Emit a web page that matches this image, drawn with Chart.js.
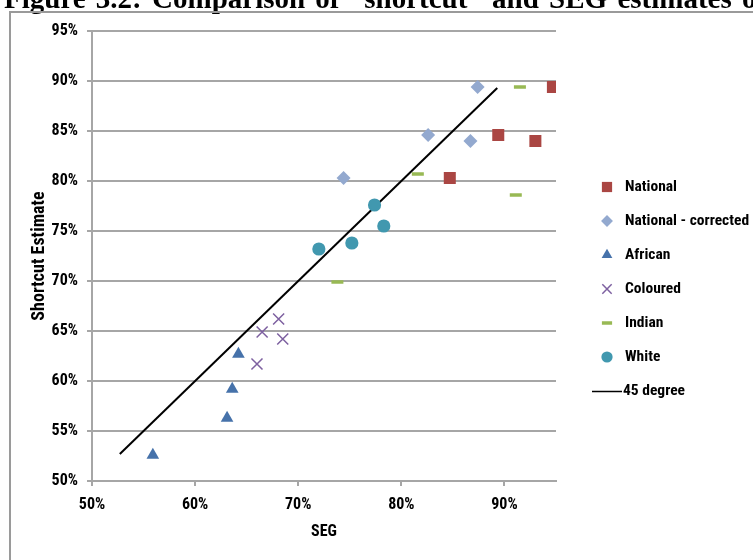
<!DOCTYPE html>
<html>
<head>
<meta charset="utf-8">
<script src="https://cdn.jsdelivr.net/npm/chart.js@4/dist/chart.umd.min.js"></script>
<style>
  html, body { margin: 0; padding: 0; background: #fff; }
  canvas { display: block; }
</style>
</head>
<body>
<canvas id="c" width="753" height="560"></canvas>
<script>
// Figure caption (runs off the top of the frame)
const figureTitle = 'Figure 3.2: Comparison of \u201cshortcut\u201d and SEG estimates of';

// Series labels, in legend order
const seriesNames = ['National', 'National - corrected', 'African', 'Coloured', 'Indian', 'White', '45 degree'];

// SEG (x) and shortcut estimate (y), in percent
const nationalSEG        = [94.7, 89.4, 93.0, 84.7];
const nationalShortcut   = [89.4, 84.6, 84.0, 80.3];
const correctedSEG       = [87.4, 82.6, 86.7, 74.4];
const correctedShortcut  = [89.4, 84.6, 84.0, 80.3];
const africanSEG         = [55.9, 63.1, 63.6, 64.2];
const africanShortcut    = [52.6, 56.3, 59.2, 62.7];
const colouredSEG        = [66.0, 66.5, 68.1, 68.5];
const colouredShortcut   = [61.7, 64.9, 66.2, 64.2];
const indianSEG          = [91.5, 81.6, 91.1, 73.8];
const indianShortcut     = [89.4, 80.7, 78.6, 69.9];
const whiteSEG           = [72.0, 75.2, 77.4, 78.3];
const whiteShortcut      = [73.2, 73.8, 77.6, 75.5];
const diagonalSEG        = [52.7, 89.3];
const diagonalShortcut   = [52.7, 89.3];

// Axis ticks
const xTicks = [50, 60, 70, 80, 90];
const yTicks = [50, 55, 60, 65, 70, 75, 80, 85, 90, 95];

const zip = (xs, ys) => xs.map((x, i) => ({ x: x, y: ys[i] }));

const uiFont = '"Liberation Sans Narrow", "Roboto Condensed", "Liberation Sans", sans-serif';
Chart.defaults.font.family = uiFont;
Chart.defaults.color = '#000';

const gridGrey = '#a6a6a6';

function marker(label, data, style, color, radius, extra) {
  return Object.assign({
    label: label,
    data: data,
    pointStyle: style,
    pointRadius: radius,
    pointHoverRadius: radius,
    backgroundColor: color,
    borderColor: color,
    pointBorderWidth: 0,
    showLine: false
  }, extra || {});
}

const datasets = [
  marker(seriesNames[0], zip(nationalSEG, nationalShortcut), 'rect', '#aa4643', 8.5),
  marker(seriesNames[1], zip(correctedSEG, correctedShortcut), 'rectRot', '#93a9cf', 7),
  marker(seriesNames[2], zip(africanSEG, africanShortcut), 'triangle', '#4672aa', 7.3),
  marker(seriesNames[3], zip(colouredSEG, colouredShortcut), 'crossRot', '#7d60a0', 7.8, { pointBorderWidth: 1.5 }),
  marker(seriesNames[4], zip(indianSEG, indianShortcut), 'line', '#98b954', 6, { pointBorderWidth: 3.5 }),
  marker(seriesNames[5], zip(whiteSEG, whiteShortcut), 'circle', '#4198af', 6.6),
  {
    label: seriesNames[6],
    data: zip(diagonalSEG, diagonalShortcut),
    showLine: true,
    borderColor: '#000',
    borderWidth: 2,
    pointRadius: 0,
    pointHoverRadius: 0,
    fill: false
  }
];

// White page, outer frame and the caption line above it
const framePlugin = {
  id: 'frame',
  beforeDraw(chart) {
    const ctx = chart.ctx;
    ctx.save();
    ctx.fillStyle = '#fff';
    ctx.fillRect(0, 0, chart.width, chart.height);
    ctx.font = 'bold 29px "Liberation Serif", "DejaVu Serif", serif';
    if ('wordSpacing' in ctx) ctx.wordSpacing = '3px';
    ctx.fillStyle = '#000';
    ctx.textBaseline = 'alphabetic';
    ctx.textAlign = 'left';
    ctx.fillText(figureTitle, 4, 8);
    ctx.strokeStyle = '#9a9a9a';
    ctx.lineWidth = 2;
    ctx.strokeRect(10, 12, chart.width + 20, chart.height + 20);
    ctx.restore();
  }
};

// Legend column to the right of the plot
const sideLegend = {
  id: 'sideLegend',
  afterDraw(chart) {
    const ctx = chart.ctx;
    const markX = 607, textX = 625, firstY = 187, step = 34;
    ctx.save();
    ctx.font = 'bold 15.5px ' + uiFont;
    ctx.textBaseline = 'middle';
    ctx.textAlign = 'left';
    chart.data.datasets.forEach((ds, i) => {
      const y = firstY + i * step;
      if (ds.showLine) {
        ctx.strokeStyle = ds.borderColor;
        ctx.lineWidth = 1.5;
        ctx.beginPath();
        ctx.moveTo(592, y + 0.5);
        ctx.lineTo(622, y + 0.5);
        ctx.stroke();
      } else {
        ctx.fillStyle = ds.backgroundColor;
        ctx.strokeStyle = ds.borderColor;
        ctx.lineWidth = ds.pointBorderWidth;
        Chart.helpers.drawPoint(ctx, {
          pointStyle: ds.pointStyle,
          radius: ds.pointRadius * 0.85,
          rotation: 0,
          borderWidth: ds.pointBorderWidth
        }, markX, y);
      }
      ctx.fillStyle = '#000';
      ctx.fillText(ds.label, ds.showLine ? 623 : textX, y);
    });
    ctx.restore();
  }
};

new Chart(document.getElementById('c'), {
  type: 'scatter',
  data: { datasets: datasets },
  plugins: [framePlugin, sideLegend],
  options: {
    responsive: false,
    animation: false,
    devicePixelRatio: 1,
    layout: { padding: { top: 31, right: 197, left: 0, bottom: 0 } },
    plugins: {
      legend: { display: false },
      tooltip: { enabled: false }
    },
    scales: {
      x: {
        type: 'linear',
        min: 50,
        max: 95,
        afterBuildTicks: s => { s.ticks = xTicks.map(v => ({ value: v })); },
        afterFit: s => { s.height = 79; },
        ticks: {
          callback: v => v + '%',
          font: { size: 16, weight: 'bold' },
          color: '#000',
          padding: 9,
          maxRotation: 0
        },
        grid: { drawOnChartArea: false, drawTicks: true, tickLength: 5, color: gridGrey, lineWidth: 2 },
        border: { color: gridGrey, width: 2 },
        title: {
          display: true,
          text: 'SEG',
          font: { size: 16, weight: 'bold' },
          color: '#000',
          padding: { top: 0, bottom: 18 }
        }
      },
      y: {
        type: 'linear',
        min: 50,
        max: 95,
        afterBuildTicks: s => { s.ticks = yTicks.map(v => ({ value: v })); },
        afterFit: s => { s.width = 92; },
        ticks: {
          callback: v => v + '%',
          font: { size: 16, weight: 'bold' },
          color: '#000',
          padding: 9
        },
        grid: { drawTicks: true, tickLength: 5, color: gridGrey, lineWidth: 2 },
        border: { color: gridGrey, width: 2 },
        title: {
          display: true,
          text: 'Shortcut Estimate',
          font: { size: 18, weight: 'bold' },
          color: '#000',
          padding: { top: 29, bottom: 0 }
        }
      }
    }
  }
});
</script>
</body>
</html>
